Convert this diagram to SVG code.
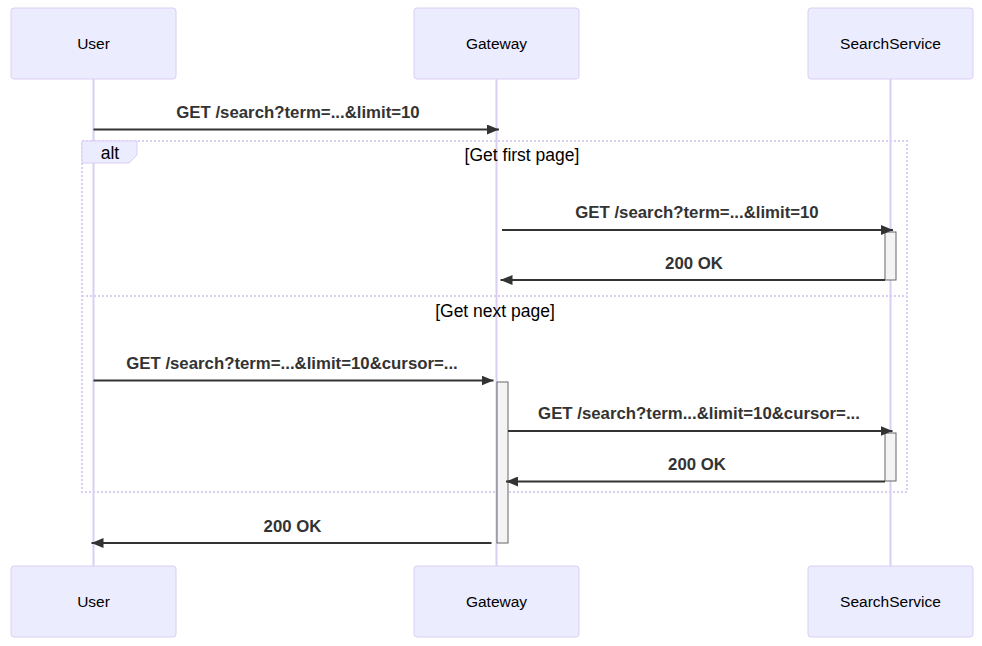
<svg xmlns="http://www.w3.org/2000/svg" width="982" height="646" viewBox="0 0 982 646">
<defs>
<style>
.actor{fill:#ECECFF;stroke:#DACEF3;stroke-width:1}
.actorText{font-family:"Liberation Sans",Arial,sans-serif;font-size:15.5px;fill:#000;text-anchor:middle}
.life{stroke:#DACEF3;stroke-width:2}
.frame{fill:none;stroke:#DACEF3;stroke-width:2;stroke-dasharray:2,2}
.labelBox{fill:#ECECFF;stroke:#DACEF3;stroke-width:1}
.frameText{font-family:"Liberation Sans",Arial,sans-serif;font-size:17.5px;fill:#000;text-anchor:middle}
.msg{stroke:#333;stroke-width:1.8;fill:none;marker-end:url(#arrow)}
.msgText{font-family:"Liberation Sans",Arial,sans-serif;font-size:16.8px;font-weight:bold;fill:#333;text-anchor:middle}
.act{fill:#F4F4F4;stroke:#666;stroke-width:1}
</style>
<marker id="arrow" viewBox="0 0 12 10" refX="12" refY="5" markerWidth="12" markerHeight="10" markerUnits="userSpaceOnUse" orient="auto">
<path d="M0,0 L12,5 L0,10 z" fill="#333"/>
</marker>
</defs>
<rect width="982" height="646" fill="#fff"/>
<g id="lifelines">
<line class="life" x1="93.5" y1="79" x2="93.5" y2="566"/>
<line class="life" x1="496.5" y1="79" x2="496.5" y2="566"/>
<line class="life" x1="890.5" y1="79" x2="890.5" y2="566"/>
</g>
<g id="actor-user-top"><rect class="actor" x="11" y="8" width="165" height="71" rx="3"/><text class="actorText" x="93.5" y="49">User</text></g>
<g id="actor-gateway-top"><rect class="actor" x="414" y="8" width="165" height="71" rx="3"/><text class="actorText" x="496.5" y="49">Gateway</text></g>
<g id="actor-search-top"><rect class="actor" x="808" y="8" width="165" height="71" rx="3"/><text class="actorText" x="890.5" y="49">SearchService</text></g>
<g id="actor-user-bottom"><rect class="actor" x="11" y="566" width="165" height="71" rx="3"/><text class="actorText" x="93.5" y="607">User</text></g>
<g id="actor-gateway-bottom"><rect class="actor" x="414" y="566" width="165" height="71" rx="3"/><text class="actorText" x="496.5" y="607">Gateway</text></g>
<g id="actor-search-bottom"><rect class="actor" x="808" y="566" width="165" height="71" rx="3"/><text class="actorText" x="890.5" y="607">SearchService</text></g>
<g id="alt-frame">
<rect class="frame" x="82" y="141" width="825" height="351"/>
<line class="frame" x1="82" y1="296" x2="907" y2="296"/>
<polygon class="labelBox" points="82,141 137,141 137,155 129,163 82,163"/>
<text class="frameText" x="110" y="159">alt</text>
<text class="frameText" x="522" y="161">[Get first page]</text>
<text class="frameText" x="495" y="317">[Get next page]</text>
</g>
<g id="activations">
<rect class="act" x="497" y="382" width="11" height="161"/>
<rect class="act" x="885" y="232" width="11" height="48"/>
<rect class="act" x="885" y="433" width="11" height="48"/>
</g>
<g id="connectors">
<line class="msg" x1="93.5" y1="129.5" x2="499" y2="129.5"/>
<text class="msgText" x="298" y="118">GET /search?term=...&amp;limit=10</text>
<line class="msg" x1="502" y1="230" x2="893" y2="230"/>
<text class="msgText" x="697" y="218">GET /search?term=...&amp;limit=10</text>
<line class="msg" x1="885" y1="280" x2="500.5" y2="280"/>
<text class="msgText" x="694" y="269">200 OK</text>
<line class="msg" x1="93.5" y1="380.5" x2="493.5" y2="380.5"/>
<text class="msgText" x="292" y="369">GET /search?term=...&amp;limit=10&amp;cursor=...</text>
<line class="msg" x1="508" y1="431" x2="892.5" y2="431"/>
<text class="msgText" x="699" y="419">GET /search?term...&amp;limit=10&amp;cursor=...</text>
<line class="msg" x1="885" y1="481.5" x2="506" y2="481.5"/>
<text class="msgText" x="697" y="470">200 OK</text>
<line class="msg" x1="491.5" y1="543" x2="91.5" y2="543"/>
<text class="msgText" x="292.5" y="532">200 OK</text>
</g>
</svg>
